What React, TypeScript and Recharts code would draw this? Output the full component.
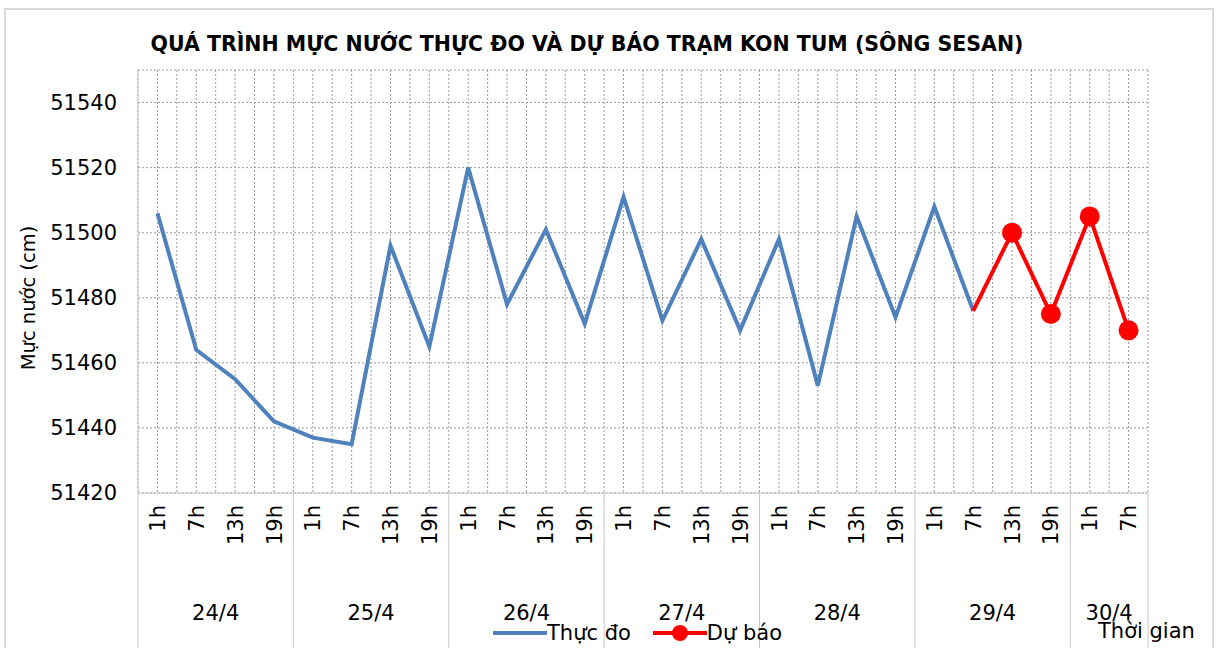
import React from "react";
import { LineChart, Line, XAxis, YAxis, CartesianGrid, Legend } from "recharts";

// observation slots (hour of day) and the day each slot belongs to
const hours = [
  "1h", "7h", "13h", "19h",
  "1h", "7h", "13h", "19h",
  "1h", "7h", "13h", "19h",
  "1h", "7h", "13h", "19h",
  "1h", "7h", "13h", "19h",
  "1h", "7h", "13h", "19h",
  "1h", "7h",
];
const days = [
  "24/4", "24/4", "24/4", "24/4",
  "25/4", "25/4", "25/4", "25/4",
  "26/4", "26/4", "26/4", "26/4",
  "27/4", "27/4", "27/4", "27/4",
  "28/4", "28/4", "28/4", "28/4",
  "29/4", "29/4", "29/4", "29/4",
  "30/4", "30/4",
];

// Thực đo (measured), cm
const measured = [
  51506, 51464, 51455, 51442,
  51437, 51435, 51496, 51465,
  51520, 51478, 51501, 51472,
  51511, 51473, 51498, 51470,
  51498, 51453, 51505, 51474,
  51508, 51476, null, null,
  null, null,
];
// Dự báo (forecast), cm
const forecast = [
  null, null, null, null,
  null, null, null, null,
  null, null, null, null,
  null, null, null, null,
  null, null, null, null,
  null, 51476, 51500, 51475,
  51505, 51470,
];

const yTicks = [51420, 51440, 51460, 51480, 51500, 51520, 51540];
const seriesOrder = ["measured", "forecast"];

const data = hours.map((h, i) => ({
  slot: `${days[i]} ${h}`,
  hour: h,
  day: days[i],
  measured: measured[i],
  forecast: forecast[i],
}));

const W = 1220;
const H = 648;
const LEFT = 138;
const RIGHT = 72;
const TOP = 70;
const XAXIS_H = 155;
const PLOT_W = W - LEFT - RIGHT;
const FONT = "'DejaVu Sans', sans-serif";
const BLUE = "#4F81BD";
const RED = "#FF0000";
const AXIS_GREY = "#C8C8C8";
const GRID_GREY = "#9A9A9A";

// dotted vertical grid at every slot centre and every slot boundary
function halfSlotLines({ offset }: any) {
  const left = offset?.left ?? LEFT;
  const width = offset?.width ?? PLOT_W;
  const steps = hours.length * 2;
  return Array.from({ length: steps + 1 }, (_, k) => left + (k * width) / steps);
}

// hour label, day label and day separators under the plot
function SlotTick(props: any) {
  const { x, y, payload } = props;
  const i = payload.index;
  const band = PLOT_W / hours.length;
  const first = i === 0 || days[i] !== days[i - 1];
  const last = i === hours.length - 1;
  const count = days.filter((d) => d === days[i]).length;
  return (
    <g>
      <text
        transform={`translate(${x},${y + 12}) rotate(-90)`}
        textAnchor="end"
        dy="0.36em"
        fontSize={21}
        fontFamily={FONT}
        fill="#000"
      >
        {hours[i]}
      </text>
      {first && (
        <>
          <line x1={x - band / 2} x2={x - band / 2} y1={y} y2={y + XAXIS_H} stroke={AXIS_GREY} />
          <text
            x={x + ((count - 1) * band) / 2}
            y={y + 127}
            textAnchor="middle"
            fontSize={21}
            fontFamily={FONT}
            fill="#000"
          >
            {days[i]}
          </text>
        </>
      )}
      {last && (
        <line x1={x + band / 2} x2={x + band / 2} y1={y} y2={y + XAXIS_H} stroke={AXIS_GREY} />
      )}
    </g>
  );
}

function ForecastDot(props: any) {
  const { cx, cy, index } = props;
  if (measured[index] != null || cx == null) return <g key={`d${index}`} />;
  return <circle key={`d${index}`} cx={cx} cy={cy} r={10} fill={RED} />;
}

function LegendContent(props: any) {
  const items = [...(props.payload || [])].sort(
    (a: any, b: any) => seriesOrder.indexOf(a.dataKey) - seriesOrder.indexOf(b.dataKey)
  );
  return (
    <div style={{ height: 0, position: "relative" }}>
      <div
        style={{
          position: "absolute",
          left: 493,
          top: 0,
          display: "flex",
          alignItems: "center",
          fontFamily: FONT,
          fontSize: 21,
          color: "#000",
          whiteSpace: "nowrap",
        }}
      >
        {items.map((it: any, k: number) => (
          <div key={k} style={{ display: "flex", alignItems: "center", marginRight: 22 }}>
            <svg width={54} height={20}>
              <line x1={0} x2={54} y1={10} y2={10} stroke={it.color} strokeWidth={4} />
              {it.dataKey === "forecast" && <circle cx={27} cy={10} r={8} fill={it.color} />}
            </svg>
            <span>{it.value}</span>
          </div>
        ))}
      </div>
    </div>
  );
}

export default function App() {
  return (
    <div style={{ position: "absolute", left: 0, top: 0, width: W, height: H, overflow: "hidden", background: "#fff" }}>
      <div
        style={{
          position: "absolute",
          left: 4,
          top: 8,
          width: 1210,
          height: 660,
          border: `2px solid #D9D9D9`,
          boxSizing: "border-box",
        }}
      />
      <LineChart width={W} height={H} data={data} margin={{ top: TOP, right: RIGHT, bottom: 0, left: 0 }}>
        <CartesianGrid
          stroke={GRID_GREY}
          strokeDasharray="2 2"
          verticalCoordinatesGenerator={halfSlotLines}
        />
        <XAxis
          dataKey="slot"
          scale="band"
          interval={0}
          height={XAXIS_H}
          tickLine={false}
          tickSize={0}
          tickMargin={0}
          axisLine={{ stroke: AXIS_GREY }}
          tick={<SlotTick />}
        />
        <YAxis
          width={LEFT}
          domain={[51420, 51550]}
          ticks={yTicks}
          interval={0}
          tickLine={false}
          tickSize={0}
          tickMargin={21}
          axisLine={{ stroke: AXIS_GREY }}
          tick={{ fontSize: 21, fontFamily: FONT, fill: "#000" }}
        />
        <Line
          dataKey="measured"
          name="Thực đo"
          stroke={BLUE}
          strokeWidth={4}
          dot={false}
          activeDot={false}
          connectNulls={false}
          isAnimationActive={false}
        />
        <Line
          dataKey="forecast"
          name="Dự báo"
          stroke={RED}
          strokeWidth={4}
          dot={<ForecastDot />}
          activeDot={false}
          connectNulls={false}
          isAnimationActive={false}
        />
        <Legend
          verticalAlign="bottom"
          content={<LegendContent />}
          wrapperStyle={{ top: 621, left: 0, bottom: "auto", width: W }}
        />
      </LineChart>
      <div
        style={{
          position: "absolute",
          left: 0,
          top: 32,
          width: 1174,
          textAlign: "center",
          fontFamily: FONT,
          fontWeight: "bold",
          fontSize: 20.5,
          color: "#000",
          whiteSpace: "nowrap",
        }}
      >
        QUÁ TRÌNH MỰC NƯỚC THỰC ĐO VÀ DỰ BÁO TRẠM KON TUM (SÔNG SESAN)
      </div>
      <div
        style={{
          position: "absolute",
          left: 28,
          top: 298,
          transform: "translate(-50%, -50%) rotate(-90deg)",
          fontFamily: FONT,
          fontSize: 19.5,
          color: "#000",
          whiteSpace: "nowrap",
        }}
      >
        Mực nước (cm)
      </div>
      <div
        style={{
          position: "absolute",
          left: 1098,
          top: 619,
          fontFamily: FONT,
          fontSize: 21,
          color: "#000",
          whiteSpace: "nowrap",
        }}
      >
        Thời gian
      </div>
    </div>
  );
}
